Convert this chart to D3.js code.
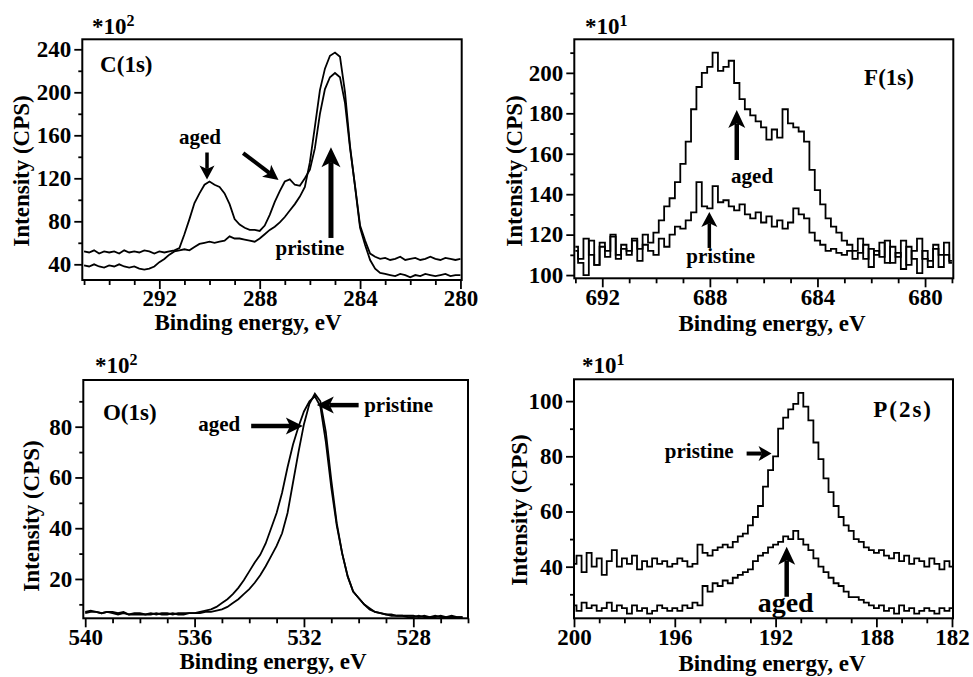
<!DOCTYPE html>
<html><head><meta charset="utf-8">
<script src="https://cdn.jsdelivr.net/npm/d3@7"></script>
<style>
html,body{margin:0;padding:0;background:#fff;}
svg{display:block;}
text{font-family:"Liberation Serif","Times New Roman",Times,serif;font-weight:bold;fill:#000;}
.tick text{font-size:23px;}
.tick line{stroke:#000;stroke-width:1.8;}
</style></head><body>
<svg id="chart" width="973" height="677"></svg>
<script>
// ---------------- DATA ----------------
// C(1s): energies 295.0 -> 280.0, step 0.2 eV
const cEnergy = d3.range(76).map(i => +(295.0 - 0.2 * i).toFixed(1));
const cPristine = [39,38,40,38,37,39,38,40,38,37,
  38,36,35,36,38,42,45,49,52,53,
  54,53,56,59,60,61,60,61,62,66,
  64,64,63,62,61,64,68,72,75,79,
  84,90,96,103,112,135,168,202,222,234,
  237,233,200,150,112,74,58,44,36,32,
  31,30,29,31,30,28,30,29,31,30,
  29,30,31,29,30,30];
const cAged = [52,51,53,50,52,51,52,50,53,51,
  52,51,53,52,50,52,51,52,53,55,
  68,82,97,106,114,117,114,112,106,96,
  82,77,74,72,72,71,76,86,98,108,
  117,119,114,113,120,128,148,180,203,214,
  218,214,190,148,113,76,62,50,47,45,
  46,44,45,47,44,45,46,44,45,47,
  45,44,46,45,44,45];
const cXTicks = [292,288,284,280];
const cXMinor = [295,294,293,291,290,289,287,286,285,283,282,281];
const cYTicks = [40,80,120,160,200,240];
const cYMinor = [60,100,140,180,220];

// F(1s): energies 693.0 -> 679.0, step 0.2 eV
const fEnergy = d3.range(71).map(i => +(693.0 - 0.2 * i).toFixed(1));
const fAged = [114,108,118,110,105,116,112,119,110,115,
  112,118,113,120,116,121,127,134,138,146,
  155,166,182,193,200,203,210,201,203,206,
  195,187,182,179,176,173,167,172,168,182,
  175,173,171,166,152,142,135,128,124,121,
  117,115,112,118,108,113,110,116,106,114,
  109,117,105,112,118,108,104,113,110,116,
  107];
const fPristine = [112,106,100,117,105,114,109,120,108,113,
  110,117,107,115,112,110,118,114,120,124,
  123,127,131,146,134,133,144,136,137,134,
  132,135,130,128,131,126,129,124,127,123,
  126,133,130,128,121,117,115,112,113,111,
  110,112,108,111,115,104,112,109,117,106,
  111,103,114,108,101,112,107,115,104,110,
  106];
const fXTicks = [692,688,684,680];
const fXMinor = [693,691,690,689,687,686,685,683,682,681,679];
const fYTicks = [100,120,140,160,180,200];
const fYMinor = [110,130,150,170,190,210];

// O(1s): energies 540.0 -> 526.2, step 0.2 eV
const oEnergy = d3.range(70).map(i => +(540.0 - 0.2 * i).toFixed(1));
const oAged = [7,7.5,7,6.5,7,7,6.5,7,6,6.5,
  6.5,6,6.5,6,6.5,6.5,6,6.5,6.5,6.5,
  6.5,7,7.5,8,9,10.5,12,14,16.5,19.5,
  23,26.5,29.5,34,40,46,54,64,73,80,
  86,90,92,88,74,56,41,30,21,15,
  12.5,10,8,7,6.5,6,6,5.5,5.5,5.5,
  5.5,5,5.5,5,5.5,5,5,5.5,5,5];
const oPristine = [6.5,7,7,6.5,7,6.5,6,6.5,6,6,
  6,6,6,6.5,6,6,6.5,6,6,6.5,
  6.5,6.5,7,7,7.5,8,9,10.5,12,14,
  16,18.5,21.5,25,29,33,38,46,58,70,
  81,89,93,90,78,59,42,30,21,15,
  12.5,10,8.5,7,6.5,6,5.5,5.5,5.5,5,
  5,5.5,5,5,5,5.5,5,5,5,5];
const oXTicks = [540,536,532,528];
const oXMinor = [539,538,537,535,534,533,531,530,529,527,526];
const oYTicks = [20,40,60,80];
const oYMinor = [10,30,50,70,90];

// P(2s): energies 200.0 -> 185.0, step 0.2 eV
const pEnergy = d3.range(76).map(i => +(200.0 - 0.2 * i).toFixed(1));
const pPristine = [41,44,38,45,40,43,37,42,46,40,
  43,41,44,39,42,40,43,41,42,40,
  41,43,42,40,41,48,45,44,46,47,
  48,47,49,51,52,55,58,62,69,75,
  80,90,94,97,99,103,98,93,85,79,
  72,67,62,58,55,53,50,49,47,46,
  45,46,44,43,45,42,44,41,43,42,
  40,43,41,39,42,40];
const pAged = [26,24,27,25,26,24,25,27,24,26,
  25,23,26,24,25,23,24,26,25,24,
  25,24,26,25,27,26,33,31,34,33,
  35,34,36,37,38,39,42,44,45,47,
  48,49,51,50,53,50,48,46,43,40,
  38,36,34,33,31,29,29,28,27,26,
  25,26,24,25,23,26,24,25,23,24,
  25,24,23,25,24,25];
const pXTicks = [200,196,192,188,185];
const pXTickLabels = ["200","196","192","188","182"];
const pXMinor = [199,198,197,195,194,193,191,190,189,187,186];
const pYTicks = [40,60,80,100];
const pYMinor = [30,50,70,90];

// ---------------- LAYOUT ----------------
const panels = [
  { key:"c", energy:cEnergy, series:[cPristine, cAged], curve:d3.curveLinear,
    frame:{l:82.3,t:39.3,r:461.7,b:280}, xDom:[295.07,279.95], yDom:[25.4,249.3],
    xMajor:cXTicks, xLabels:cXTicks.map(String), xMinor:cXMinor, yMajor:cYTicks, yMinor:cYMinor,
    power:"2", powerPos:[92,34], xTitle:[248,330], yTitle:[21,171],
    ann:[
      {t:"text", s:"C(1s)", x:294.36, y:219, anchor:"start", size:23},
      {t:"text", s:"aged", x:290.38, y:152, anchor:"middle", size:21},
      {t:"arrow", x1:290.1, y1:144, x2:290.1, y2:119, w:3.5, hl:14, hw:15},
      {t:"arrow", x1:288.66, y1:143.5, x2:287.25, y2:118.5, w:4, hl:15, hw:15},
      {t:"text", s:"pristine", x:286.0, y:48.5, anchor:"middle", size:21},
      {t:"arrow", x1:285.16, y1:64.5, x2:285.16, y2:149, w:5, hl:20, hw:19}
    ]},
  { key:"f", energy:fEnergy, series:[fPristine, fAged], curve:d3.curveStep,
    frame:{l:574.3,t:39.3,r:953.3,b:278.3}, xDom:[693.04,678.95], yDom:[98.4,216.6],
    xMajor:fXTicks, xLabels:fXTicks.map(String), xMinor:fXMinor, yMajor:fYTicks, yMinor:fYMinor,
    power:"1", powerPos:[585,34], xTitle:[772,331], yTitle:[514,171],
    ann:[
      {t:"text", s:"F(1s)", x:681.34, y:194, anchor:"middle", size:23},
      {t:"text", s:"aged", x:686.43, y:145.5, anchor:"middle", size:21},
      {t:"arrow", x1:687.0, y1:156.9, x2:687.0, y2:181.6, w:4.5, hl:18, hw:17},
      {t:"text", s:"pristine", x:687.6, y:106, anchor:"middle", size:21},
      {t:"arrow", x1:688.02, y1:113.4, x2:688.02, y2:131.2, w:3.5, hl:15, hw:16}
    ]},
  { key:"o", energy:oEnergy, series:[oPristine, oAged], curve:d3.curveLinear,
    frame:{l:83.3,t:380,r:468,b:618.3}, xDom:[540.07,526.0], yDom:[4.5,98.4],
    xMajor:oXTicks, xLabels:oXTicks.map(String), xMinor:oXMinor, yMajor:oYTicks, yMinor:oYMinor,
    power:"2", powerPos:[95,373], xTitle:[273,669], yTitle:[31,516],
    ann:[
      {t:"text", s:"O(1s)", x:539.35, y:82.6, anchor:"start", size:23},
      {t:"text", s:"aged", x:535.1, y:78.4, anchor:"middle", size:21},
      {t:"arrow", x1:533.93, y1:80.3, x2:532.04, y2:80.3, w:4.5, hl:17, hw:17},
      {t:"text", s:"pristine", x:528.54, y:85.9, anchor:"middle", size:21},
      {t:"arrow", x1:530.0, y1:88.5, x2:531.53, y2:88.5, w:4.5, hl:17, hw:17}
    ]},
  { key:"p", energy:pEnergy, series:[pPristine, pAged], curve:d3.curveStep,
    frame:{l:574,t:379.3,r:953,b:618.3}, xDom:[200,184.96], yDom:[21.3,107.9],
    xMajor:pXTicks, xLabels:pXTickLabels, xMinor:pXMinor, yMajor:pYTicks, yMinor:pYMinor,
    power:"1", powerPos:[582,373], xTitle:[772,671], yTitle:[519,510],
    ann:[
      {t:"text", s:"P(2s)", x:186.94, y:94.1, anchor:"middle", size:23, ls:2},
      {t:"text", s:"pristine", x:195.03, y:79.3, anchor:"middle", size:21},
      {t:"arrow", x1:193.15, y1:81, x2:192.16, y2:81, w:4, hl:13, hw:15},
      {t:"text", s:"aged", x:191.6, y:23.7, anchor:"middle", size:28},
      {t:"arrow", x1:191.56, y1:29.1, x2:191.56, y2:47.2, w:4.5, hl:18, hw:17}
    ]}
];

const svg = d3.select("#chart");
svg.append("rect").attr("width",973).attr("height",677).attr("fill","#fff");

function drawArrow(g, x1, y1, x2, y2, w, hl, hw) {
  const dx = x2 - x1, dy = y2 - y1, L = Math.hypot(dx, dy);
  const ux = dx / L, uy = dy / L;
  const bx = x2 - ux * hl, by = y2 - uy * hl;
  const nx = x2 - ux * hl * 0.75, ny = y2 - uy * hl * 0.75;
  g.append("line").attr("x1", x1).attr("y1", y1).attr("x2", nx).attr("y2", ny)
    .attr("stroke", "#000").attr("stroke-width", w);
  g.append("path")
    .attr("d", `M${x2},${y2}L${bx + uy * hw / 2},${by - ux * hw / 2}L${nx},${ny}L${bx - uy * hw / 2},${by + ux * hw / 2}Z`)
    .attr("fill", "#000");
}

panels.forEach(p => {
  const f = p.frame;
  const g = svg.append("g").attr("class", "panel-" + p.key);
  const x = d3.scaleLinear().domain(p.xDom).range([f.l, f.r]);
  const y = d3.scaleLinear().domain(p.yDom).range([f.b, f.t]);

  const clipId = "clip-" + p.key;
  svg.append("clipPath").attr("id", clipId).append("rect")
    .attr("x", f.l).attr("y", f.t).attr("width", f.r - f.l).attr("height", f.b - f.t);

  const line = d3.line().x(d => x(d[0])).y(d => y(d[1])).curve(p.curve);
  const cg = g.append("g").attr("clip-path", `url(#${clipId})`);
  p.series.forEach(vals => {
    cg.append("path").datum(p.energy.map((e, i) => [e, vals[i]]))
      .attr("d", line).attr("fill", "none").attr("stroke", "#000")
      .attr("stroke-width", 1.8).attr("stroke-linejoin", "miter");
  });

  const gx = g.append("g").attr("transform", `translate(0,${f.b})`);
  gx.call(d3.axisBottom(x).tickValues(p.xMajor).tickSize(9).tickPadding(1)
    .tickFormat((d, i) => p.xLabels[i]));
  gx.append("g").call(d3.axisBottom(x).tickValues(p.xMinor).tickSize(5).tickFormat(""));
  gx.selectAll(".domain").remove();
  gx.attr("font-size", null).attr("font-family", null);

  const gy = g.append("g").attr("transform", `translate(${f.l},0)`);
  gy.call(d3.axisLeft(y).tickValues(p.yMajor).tickSize(8).tickPadding(3)
    .tickFormat(d3.format("d")));
  gy.append("g").call(d3.axisLeft(y).tickValues(p.yMinor).tickSize(4).tickFormat(""));
  gy.selectAll(".domain").remove();
  gy.attr("font-size", null).attr("font-family", null);

  g.append("rect").attr("x", f.l).attr("y", f.t).attr("width", f.r - f.l).attr("height", f.b - f.t)
    .attr("fill", "none").attr("stroke", "#000").attr("stroke-width", 2);

  const pt = g.append("text").attr("x", p.powerPos[0]).attr("y", p.powerPos[1]).attr("font-size", 23);
  pt.append("tspan").text("*10");
  pt.append("tspan").attr("font-size", 16).attr("dy", -8).text(p.power);

  g.append("text").attr("x", p.xTitle[0]).attr("y", p.xTitle[1]).attr("text-anchor", "middle")
    .attr("font-size", 23).text("Binding energy, eV");
  g.append("text").attr("transform", `translate(${p.yTitle[0]},${p.yTitle[1]}) rotate(-90)`)
    .attr("text-anchor", "middle").attr("dominant-baseline", "central")
    .attr("font-size", 23).text("Intensity (CPS)");

  const ag = g.append("g");
  p.ann.forEach(a => {
    if (a.t === "text") {
      ag.append("text").attr("x", x(a.x)).attr("y", y(a.y)).attr("text-anchor", a.anchor)
        .attr("font-size", a.size).attr("letter-spacing", a.ls || 0).text(a.s);
    } else {
      drawArrow(ag, x(a.x1), y(a.y1), x(a.x2), y(a.y2), a.w, a.hl, a.hw);
    }
  });
});
</script>
</body></html>
